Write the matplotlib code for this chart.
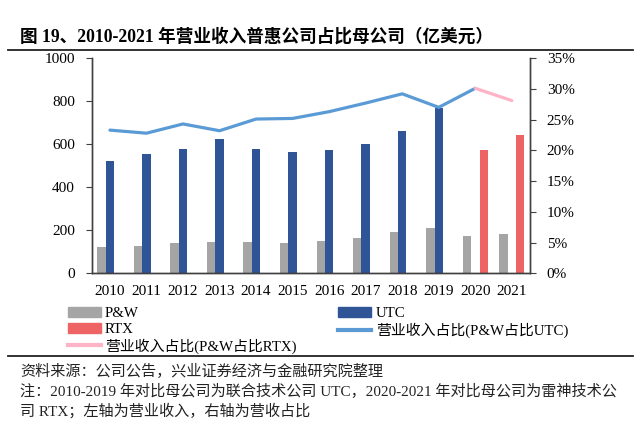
import numpy as np
import matplotlib
matplotlib.use('Agg')
import matplotlib.pyplot as plt
from matplotlib.patches import Patch
from matplotlib.lines import Line2D
from matplotlib.ticker import FuncFormatter

plt.rcParams['font.family'] = ['Liberation Serif', 'Noto Sans CJK SC', 'DejaVu Sans']

# datos
anos = ['2010', '2011', '2012', '2013', '2014', '2015', '2016', '2017', '2018', '2019', '2020', '2021']
pw = [121, 127, 140, 144, 144, 141, 149, 164, 194, 209, 172, 181]
utc = [522, 556, 577, 626, 578, 563, 575, 601, 663, 770, np.nan, np.nan]
rtx = [np.nan] * 10 + [572, 642]
pct_utc = [23.3, 22.8, 24.3, 23.2, 25.1, 25.2, 26.3, 27.7, 29.2, 27.0, 30.1, np.nan]
pct_rtx = [np.nan] * 10 + [30.1, 28.1]

c_pw = '#A5A5A5'
c_utc = '#2F5597'
c_rtx = '#EE6363'
c_lin = '#5B9BD5'
c_pink = '#FFB3C6'

fig = plt.figure(figsize=(6.41, 4.34), dpi=100)
ax = fig.add_axes([0.143, 0.370, 0.684, 0.496])
ax2 = ax.twinx()

x = np.arange(len(anos))
w = 0.23
ax.bar(x - w, pw, w, color=c_pw, zorder=2)
ax.bar(x, utc, w, color=c_utc, zorder=2)
ax.bar(x + w, rtx, w, color=c_rtx, zorder=2)
ax.set_xlim(-0.5, len(anos) - 0.5)
ax.set_ylim(0, 1000)
ax.set_yticks(range(0, 1001, 200))
ax.set_xticks(x)
ax.set_xticklabels(anos)

ax2.plot(x, np.array(pct_utc) / 100, color=c_lin, lw=2.3, solid_capstyle='round')
ax2.plot(x, np.array(pct_rtx) / 100, color=c_pink, lw=2.3, solid_capstyle='round')
ax2.set_ylim(0, 0.35)
ax2.set_yticks(np.arange(0, 0.351, 0.05))
ax2.yaxis.set_major_formatter(FuncFormatter(lambda v, p: '%d%%' % round(v * 100)))

for a in (ax, ax2):
    a.spines['top'].set_visible(False)
    for s in a.spines.values():
        s.set_color('#404040')
        s.set_linewidth(1.0)
ax.tick_params(axis='x', length=0, pad=8, labelsize=11)
ax.tick_params(axis='y', length=4, pad=8, labelsize=11, color='#404040')
ax2.tick_params(axis='y', length=4, pad=8, labelsize=11, color='#404040')

# leyenda en dos columnas
h1 = [Patch(color=c_pw), Patch(color=c_rtx), Line2D([], [], color=c_pink, lw=3)]
l1 = ['P&W', 'RTX', '营业收入占比(P&W占比RTX)']
h2 = [Patch(color=c_utc), Line2D([], [], color=c_lin, lw=3)]
l2 = ['UTC', '营业收入占比(P&W占比UTC)']
kw = dict(loc='upper left', frameon=False, fontsize=10.7, handlelength=2.2,
          handletextpad=0.3, labelspacing=0.15, borderpad=0, borderaxespad=0)
fig.legend(h1, l1, bbox_to_anchor=(0.106, 1 - 307 / 434), **kw)
fig.legend(h2, l2, bbox_to_anchor=(0.528, 1 - 307 / 434), **kw)

# titulo y notas
fig.text(20 / 641, 1 - 37 / 434, '图 19、2010-2021 年营业收入普惠公司占比母公司（亿美元）',
         fontsize=12.7, fontweight='bold', va='center', ha='left')
fig.add_artist(Line2D([8 / 641, 633 / 641], [1 - 50 / 434] * 2, color='#222222', lw=1.3))
fig.add_artist(Line2D([8 / 641, 633 / 641], [1 - 356 / 434] * 2, color='#222222', lw=1.3))
fig.text(20 / 641, 1 - 371 / 434, '资料来源：公司公告，兴业证券经济与金融研究院整理',
         fontsize=10.9, va='center', ha='left', color='#222222')
fig.text(20 / 641, 1 - 391 / 434,
         '注：2010-2019 年对比母公司为联合技术公司 UTC，2020-2021 年对比母公司为雷神技术公',
         fontsize=10.9, va='center', ha='left', color='#222222')
fig.text(20 / 641, 1 - 411 / 434, '司 RTX；左轴为营业收入，右轴为营收占比',
         fontsize=10.9, va='center', ha='left', color='#222222')

fig.savefig('out.png', dpi=100)
